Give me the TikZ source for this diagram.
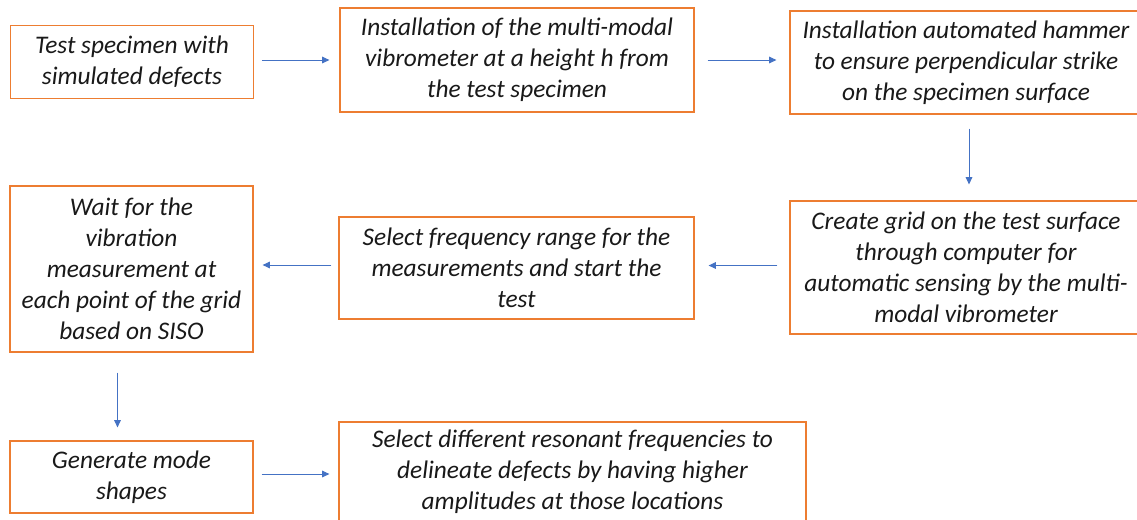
\documentclass[tikz,border=0pt]{standalone}
\usepackage{fontspec}
\setmainfont{Carlito}
\usetikzlibrary{arrows.meta}
\definecolor{boxorange}{RGB}{237,125,49}
\definecolor{arrowblue}{RGB}{68,114,196}
\begin{document}
\begin{tikzpicture}[x=0.75pt,y=-0.75pt,
  box/.style={draw=boxorange, line width=0.9pt, align=center, inner sep=0pt,
    font=\fontsize{19}{23.25}\selectfont\itshape, text=black!90},
  flow/.style={draw=arrowblue, line width=0.75pt, -{Triangle[length=5.5pt,width=5pt]}}]
\useasboundingbox (0,0) rectangle (1137,519);
\fill[white] (0,0) rectangle (1137,519);
\node[box, minimum width=182pt, minimum height=54.75pt] (b1) at (132,62) {Test specimen with\\simulated defects};
\node[box, minimum width=265.5pt, minimum height=78pt] (b2) at (517,60) {Installation of the multi-modal\\vibrometer at a height h from\\the test specimen};
\node[box, minimum width=264pt, minimum height=77.25pt] (b3) at (966,62.5) {Installation automated hammer\\to ensure perpendicular strike\\on the specimen surface};
\node[box, minimum width=264pt, minimum height=99.75pt] (b4) at (966,267.5) {Create grid on the test surface\\through computer for\\automatic sensing by the multi-\\modal vibrometer};
\node[box, minimum width=266.25pt, minimum height=76.5pt] (b5) at (516.5,268) {Select frequency range for the\\measurements and start the\\test};
\node[box, minimum width=182.25pt, minimum height=124.5pt] (b6) at (131.5,269) {Wait for the\\vibration\\measurement at\\each point of the grid\\based on SISO};
\node[box, minimum width=182.25pt, minimum height=54pt] (b7) at (131.5,477) {Generate mode\\shapes};
\node[box, minimum width=350.25pt, minimum height=75pt] (b8) at (572.5,472) {Select different resonant frequencies to\\delineate defects by having higher\\amplitudes at those locations};
\draw[flow, shorten <=6pt, shorten >=7.5pt] ([yshift=1.5pt]b1.east) -- ([yshift=1.5pt]b1.east -| b2.west);
\draw[flow, shorten <=9.75pt, shorten >=9.75pt] ([yshift=0pt]b2.east) -- (b2.east -| b3.west);
\draw[flow, shorten <=10.5pt, shorten >=12pt] ([xshift=2.25pt]b3.south) -- ([xshift=2.25pt]b3.south |- b4.north);
\draw[flow, shorten <=9pt, shorten >=10.5pt] ([yshift=1.5pt]b4.west) -- ([yshift=1.5pt]b4.west -| b5.east);
\draw[flow, shorten <=5.25pt, shorten >=6.75pt] ([yshift=2.25pt]b5.west) -- ([yshift=2.25pt]b5.west -| b6.east);
\draw[flow, shorten <=15pt, shorten >=9.75pt] ([xshift=-10.5pt]b6.south) -- ([xshift=-10.5pt]b6.south |- b7.north);
\draw[flow, shorten <=6pt, shorten >=6.75pt] ([yshift=2.25pt]b7.east) -- ([yshift=2.25pt]b7.east -| b8.west);
\end{tikzpicture}
\end{document}
